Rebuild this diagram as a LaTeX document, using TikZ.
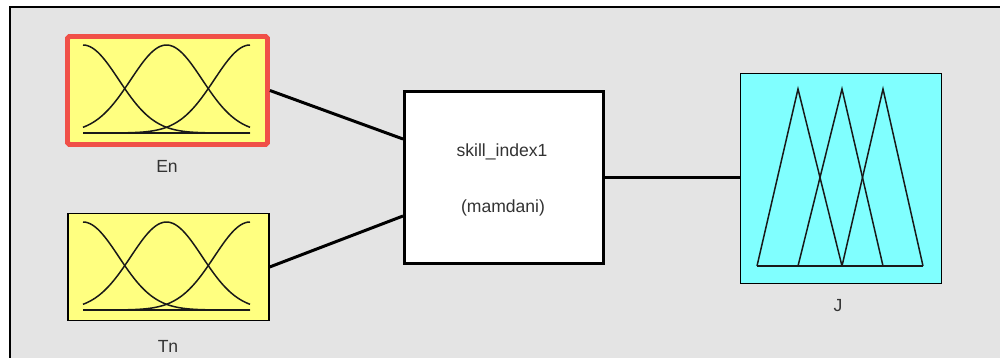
\documentclass[tikz,border=0pt]{standalone}
\usepackage{fontspec}
\setmainfont{Liberation Sans}
\usetikzlibrary{calc}
\definecolor{bggray}{RGB}{228,228,228}
\definecolor{fisyellow}{RGB}{255,255,128}
\definecolor{fiscyan}{RGB}{128,255,255}
\definecolor{selred}{RGB}{240,80,72}
\tikzset{
  mfbox/.style={draw=black, line width=0.75pt, inner sep=0pt},
  inbox/.style={mfbox, fill=fisyellow, minimum width=4.02cm, minimum height=2.14cm},
  selbox/.style={draw=selred, line width=2.8pt, fill=fisyellow, rounded corners=1pt, inner sep=0pt, minimum width=4.0cm, minimum height=2.16cm},
  outbox/.style={mfbox, fill=fiscyan, minimum width=4.02cm, minimum height=4.2cm},
  sysbox/.style={draw=black, line width=1.7pt, fill=white, inner sep=0pt, minimum width=3.98cm, minimum height=3.44cm},
  wire/.style={draw=black, line width=1.7pt},
  mfcurve/.style={draw=black!90, line width=0.85pt},
  lbl/.style={font=\fontsize{10}{12}\selectfont, inner sep=0pt, text=black!80}
}
\begin{document}
\begin{tikzpicture}[x=0.02cm, y=-0.02cm]
\useasboundingbox (0,0) rectangle (1000,358);
\fill[white] (0,0) rectangle (1000,358);
\fill[bggray] (10,7) rectangle (1000,358);
\draw[line width=1.2pt] (10,358) -- (10,7) -- (1000,7);

% boxes
\node[selbox] (En) at (167.5,90.5) {};
\node[inbox] (Tn) at (168.5,267) {};
\node[sysbox] (mid) at (504,177.5) {};
\node[outbox] (J) at (841,178.5) {};

% membership functions (inputs)
\foreach \yb/\ht in {133/88, 310/88} {
  \foreach \c in {83,166.5,250} {
    \draw[mfcurve] plot[domain=83:250, samples=70, smooth] (\x, {\yb-\ht*exp(-0.5*((\x-\c)/35.7)^2)});
  }
  \draw[mfcurve] (83,\yb) -- (250,\yb);
}

% output triangles
\draw[mfcurve] (757,266) -- (798,89) -- (842,266);
\draw[mfcurve] (798,266) -- (842,89) -- (883,266);
\draw[mfcurve] (842,266) -- (883,89) -- (923,266);
\draw[mfcurve] (757,266) -- (923,266);

% labels
\node[lbl] (lEn) at (167,166) {En};
\node[lbl] (lTn) at (168,346) {Tn};
\node[lbl] (lJ) at (838,306) {J};
\node[lbl] (lsys) at (502,152) {skill\_index1};
\node[lbl] (lmeth) at (503,208) {(mamdani)};

% connectors
\coordinate (mIn1) at ($(mid.north west)!0.28!(mid.south west)$);
\coordinate (mIn2) at ($(mid.north west)!0.72!(mid.south west)$);
\draw[wire] (En.east) -- (mIn1);
\draw[wire] (Tn.east) -- (mIn2);
\draw[wire] (mid.east) -- (mid.east -| J.west);
\end{tikzpicture}
\end{document}
